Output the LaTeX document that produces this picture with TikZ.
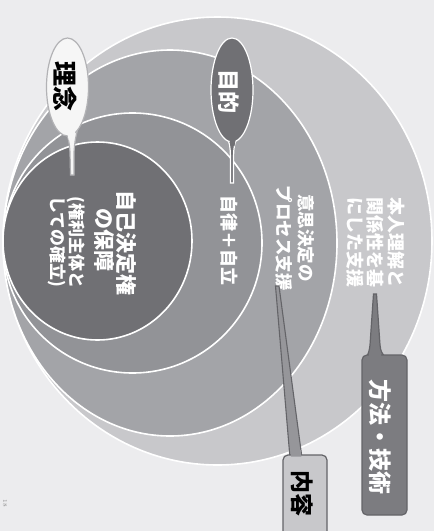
\documentclass[tikz,border=0pt]{standalone}
\usepackage{fontspec}
\newfontfamily\cjk{Noto Sans CJK JP}
\usetikzlibrary{shapes.geometric}
\definecolor{bgc}{RGB}{236,236,238}
\definecolor{cA}{RGB}{200,200,203}
\definecolor{cB}{RGB}{163,164,168}
\definecolor{cC}{RGB}{146,147,151}
\definecolor{cD}{RGB}{112,112,116}
\definecolor{lightcall}{RGB}{246,246,246}
\definecolor{lightedge}{RGB}{178,178,181}
\definecolor{darkcall}{RGB}{124,124,128}
\definecolor{darkedge}{RGB}{100,100,104}
\definecolor{tailfill}{RGB}{150,150,154}
\newcommand\fsz[1]{\fontsize{#1}{#1}\selectfont}
\tikzset{
  ring/.style={draw=white, line width=1.6pt},
  vtext/.style={rotate=-90, inner sep=0pt, text=white},
}
\begin{document}
\begin{tikzpicture}[x=1pt,y=-1pt]
\useasboundingbox (0,0) rectangle (434,531);
\fill[bgc] (0,0) rectangle (434,531);
% circles
\filldraw[ring, fill=cA] (217.5,241) ellipse [x radius=214.5, y radius=224];
\filldraw[ring, fill=cB] (170,243) ellipse [x radius=167, y radius=193];
\filldraw[ring, fill=cC] (132.5,243) ellipse [x radius=129.5, y radius=130];
\filldraw[ring, fill=cD] (97.5,241) ellipse [x radius=94.5, y radius=99];
% texts in circles
\node[vtext, font=\cjk\bfseries\fsz{21}] (t1) at (126,243) {自己決定権};
\node[vtext, font=\cjk\bfseries\fsz{21}] (t2) at (104,240) {の保障};
\node[vtext, font=\cjk\bfseries\fsz{17}, anchor=west] (t3) at (76,196) {(権利主体と};
\node[vtext, font=\cjk\bfseries\fsz{17}, anchor=west] (t4) at (57,196) {しての確立)};
\node[vtext, font=\cjk\bfseries\fsz{18}] (t5) at (229,240) {自律＋自立};
\node[vtext, font=\cjk\bfseries\fsz{17.5}] (t6) at (306,238) {意思決定の};
\node[vtext, font=\cjk\bfseries\fsz{17.5}] (t7) at (284,238) {プロセス支援};
\node[vtext, font=\cjk\bfseries\fsz{18}] (t8) at (396,242) {本人理解と};
\node[vtext, font=\cjk\bfseries\fsz{18}] (t9) at (375,242) {関係性を基};
\node[vtext, font=\cjk\bfseries\fsz{18}] (t10) at (355,242) {にした支援};
% 理念 callout
\filldraw[fill=lightcall, draw=lightedge, line width=1.2pt] (64,128) .. controls (69,140) .. (70,152) -- (70.5,175) -- (74,175) -- (74,152) .. controls (75,140) .. (78,128) -- cycle;
\node[ellipse, fill=lightcall, draw=lightedge, line width=1.2pt, minimum width=42, minimum height=98, inner sep=0] (rinen) at (67.5,87) {};
\fill[lightcall] (67.3,131) -- (75.3,131) -- (74.2,140) -- (68.6,140) -- cycle;
\node[vtext, text=black, font=\cjk\bfseries\fsz{25}] (rinent) at (65,86) {理念};
% 目的 callout
\filldraw[fill=cD, draw=white, line width=1.2pt] (226,133) .. controls (230,145) .. (230.5,157) -- (230.5,183) -- (233.5,183) -- (233.5,157) .. controls (234,145) .. (239,133) -- cycle;
\node[ellipse, fill=cD, draw=white, line width=1.2pt, minimum width=42, minimum height=104, inner sep=0] (mokuteki) at (232,90) {};
\fill[cD] (229,137) -- (236,137) -- (234.5,146) -- (230.5,146) -- cycle;
\node[vtext, font=\cjk\bfseries\fsz{22}] (mokutekit) at (229,91) {目的};
% 方法・技術 callout
\filldraw[fill=darkcall, draw=darkedge, line width=1.2pt] (373.5,294) -- (376.5,294) -- (380,345) .. controls (381,352) .. (386,358) -- (366,358) .. controls (369,352) .. (370,345) -- cycle;
\node[rectangle, rounded corners=5pt, fill=darkcall, draw=darkedge, line width=1.2pt, minimum width=45, minimum height=160, inner sep=0] (houhou) at (384.5,435) {};
\fill[darkcall] (370,350) -- (380,350) -- (382,360) -- (368,360) -- cycle;
\node[vtext, font=\cjk\bfseries\fsz{23}] (houhout) at (380,437) {方法・技術};
% 内容 callout
\filldraw[fill=tailfill, draw=darkedge, line width=1.1pt] (275.5,286) -- (279,286) -- (302,458) -- (290,458) -- cycle;
\node[rectangle, rounded corners=5pt, fill=cA, draw=darkedge, line width=1.2pt, minimum width=44, minimum height=90, inner sep=0] (naiyou) at (305,500) {};
\fill[tailfill] (290.6,450) -- (300.8,450) -- (301.3,456.5) -- (291,456.5) -- cycle;
\node[vtext, text=black, font=\cjk\bfseries\fsz{23}] (naiyout) at (302,493) {内容};
% page number
\node[rotate=-90, inner sep=0, text=black!45, font=\fsz{6}] (pg) at (5,503) {18};
\end{tikzpicture}
\end{document}
